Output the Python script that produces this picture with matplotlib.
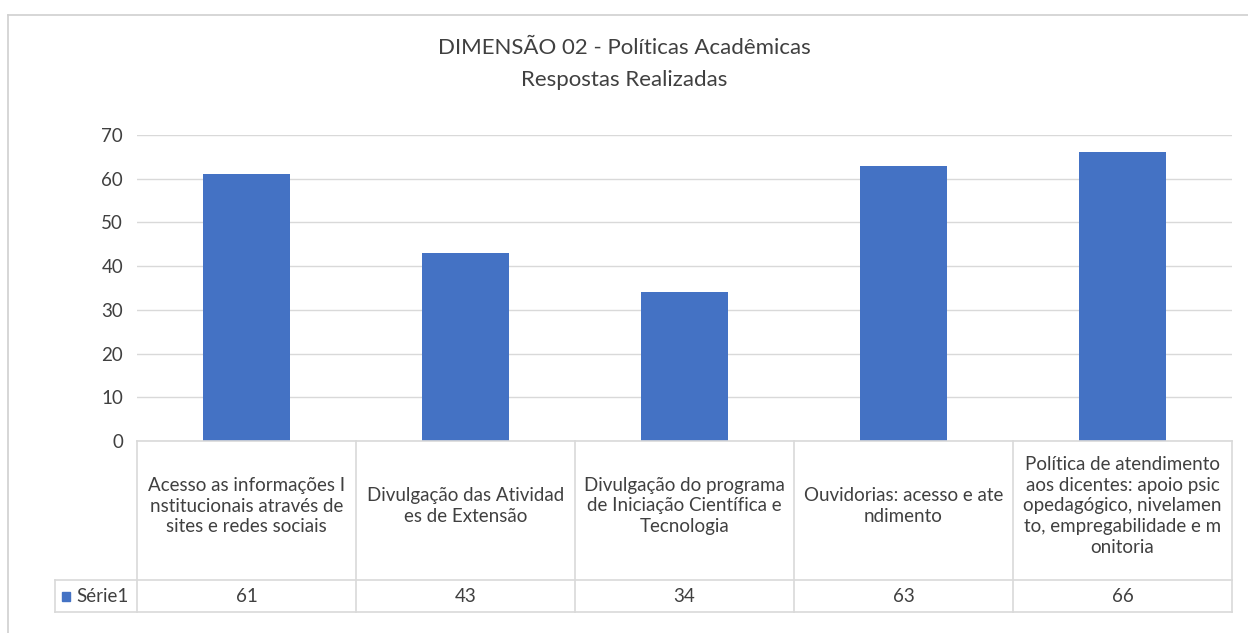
import matplotlib
matplotlib.use("Agg")
import matplotlib.pyplot as plt
from matplotlib.lines import Line2D
from matplotlib.patches import Rectangle
import matplotlib.transforms as mtransforms

plt.rcParams['font.family'] = ['Lato', 'DejaVu Sans']

title_lines = ["DIMENSÃO 02 - Políticas Acadêmicas", "Respostas Realizadas"]
categories = [
    "Acesso as informações I\nnstitucionais através de\nsites e redes sociais",
    "Divulgação das Atividad\nes de Extensão",
    "Divulgação do programa\nde Iniciação Científica e\nTecnologia",
    "Ouvidorias: acesso e ate\nndimento",
    "Política de atendimento\naos dicentes: apoio psic\nopedagógico, nivelamen\nto, empregabilidade e m\nonitoria",
]
series_name = "Série1"
values = [61, 43, 34, 63, 66]
yticks = [0, 10, 20, 30, 40, 50, 60, 70]

W, H = 1248, 633
BAR = "#4472C4"
GRID = "#D9D9D9"
TXT = "#404040"
FS = 13.5

fig = plt.figure(figsize=(W / 100, H / 100), dpi=100)
fig.patch.set_facecolor("white")

def fx(px):
    return px / W

def fy(py):
    return 1 - py / H

# outer chart frame
fig.add_artist(Line2D([fx(8), fx(8)], [fy(15), fy(640)], color="#D0D0D0", lw=1.2))
fig.add_artist(Line2D([fx(8), fx(1260)], [fy(15), fy(15)], color="#D0D0D0", lw=1.2))

ax = fig.add_axes([fx(137), fy(441), fx(1232) - fx(137), fy(135) - fy(441)])
x = list(range(len(values)))
ax.bar(x, values, width=0.4, color=BAR, zorder=3)
ax.set_xlim(-0.5, len(values) - 0.5)
ax.set_ylim(0, 70)
ax.set_yticks(yticks)
ax.set_yticklabels([str(t) for t in yticks], fontsize=FS, color=TXT)
ax.set_xticks([])
ax.tick_params(axis="y", length=0, pad=10)
ax.grid(axis="y", color=GRID, lw=1, zorder=0)
for s in ax.spines.values():
    s.set_visible(False)

# title
fig.text(0.5, fy(48), title_lines[0], ha="center", va="center", fontsize=16, color=TXT)
fig.text(0.5, fy(80), title_lines[1], ha="center", va="center", fontsize=16, color=TXT)

# data table under the axis
blend = mtransforms.blended_transform_factory(ax.transData, fig.transFigure)
y_axis = fy(441)
y_mid = fy(580)
y_bot = fy(612)
y_label = fy(506)
tbl = dict(color=GRID, lw=1.2, clip_on=False)

fig.add_artist(Line2D([fx(137), fx(1232)], [y_axis, y_axis], **tbl))
fig.add_artist(Line2D([fx(55), fx(1232)], [y_mid, y_mid], **tbl))
fig.add_artist(Line2D([fx(55), fx(1232)], [y_bot, y_bot], **tbl))
fig.add_artist(Line2D([fx(55), fx(55)], [y_mid, y_bot], **tbl))
for b in [i - 0.5 for i in range(len(values) + 1)]:
    ax.add_line(Line2D([b, b], [y_axis, y_bot], transform=blend, **tbl))

for i, (cat, v) in enumerate(zip(categories, values)):
    ax.text(i, y_label, cat, transform=blend, ha="center", va="center",
            fontsize=FS, color=TXT, linespacing=1.27, multialignment="center")
    ax.text(i, (y_mid + y_bot) / 2, str(v), transform=blend, ha="center", va="center",
            fontsize=FS, color=TXT)

# legend key in the table's row header
fig.add_artist(Rectangle((fx(62), fy(601)), fx(8), fy(592) - fy(601), color=BAR,
                         transform=fig.transFigure))
fig.text(fx(76), (y_mid + y_bot) / 2, series_name, ha="left", va="center",
         fontsize=FS, color=TXT)

fig.savefig("out.png", dpi=100, facecolor="white")
